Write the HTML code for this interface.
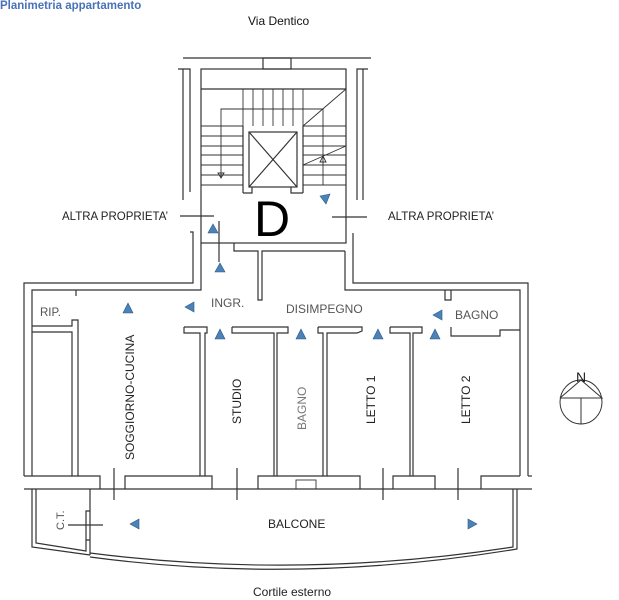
<!DOCTYPE html>
<html><head><meta charset="utf-8"><style>
html,body{margin:0;padding:0;background:#fff;}
svg{display:block;}
text{font-family:"Liberation Sans",sans-serif;}
</style></head><body>
<svg width="619" height="600" viewBox="0 0 619 600" xmlns="http://www.w3.org/2000/svg">
<rect width="619" height="600" fill="#fff"/>
<text x="0" y="9" font-size="11.5" font-weight="bold" fill="#4a72b8">Planimetria appartamento</text>
<text x="248" y="25" font-size="12" fill="#111">Via Dentico</text>
<g stroke="#333" stroke-width="1.2" fill="none">
<!-- top stair block -->
<line x1="183" y1="58" x2="371" y2="58"/>
<rect x="263" y="58" width="28" height="11"/>
<polyline points="178,69 190,69 190,192"/>
<line x1="183" y1="69" x2="183" y2="200"/>
<polyline points="368,69 357,69 357,200"/>
<line x1="363" y1="69" x2="363" y2="200"/>
<rect x="201" y="69" width="145" height="174"/>
<line x1="201" y1="89" x2="346" y2="89"/>
<g stroke-width="0.9">
<line x1="243" y1="89" x2="243" y2="126"/><line x1="253" y1="89" x2="253" y2="126"/>
<line x1="263" y1="89" x2="263" y2="126"/><line x1="273" y1="89" x2="273" y2="126"/>
<line x1="283" y1="89" x2="283" y2="126"/><line x1="293" y1="89" x2="293" y2="126"/>
<line x1="303" y1="89" x2="303" y2="126"/>
<line x1="201" y1="126" x2="243" y2="126"/><line x1="201" y1="136" x2="243" y2="136"/>
<line x1="201" y1="146" x2="243" y2="146"/><line x1="201" y1="155" x2="243" y2="155"/>
<line x1="201" y1="165" x2="243" y2="165"/><line x1="201" y1="175" x2="243" y2="175"/>
<line x1="201" y1="185" x2="243" y2="185"/>
<line x1="303" y1="126" x2="346" y2="126"/><line x1="303" y1="136" x2="346" y2="136"/>
<line x1="303" y1="146" x2="346" y2="146"/><line x1="303" y1="155" x2="346" y2="155"/>
<line x1="303" y1="165" x2="346" y2="165"/><line x1="303" y1="175" x2="346" y2="175"/>
<line x1="303" y1="185" x2="346" y2="185"/>
<line x1="346" y1="89" x2="303" y2="126"/>
<line x1="303" y1="165" x2="346" y2="146"/>
<polyline points="221,177 221,109 323,109 323,185"/>
<polygon points="218,173 224,173 221,178"/>
<polygon points="320,162 326,162 323,156"/>
</g>
<line x1="243" y1="126" x2="243" y2="193"/><line x1="303" y1="126" x2="303" y2="193"/>
<polyline points="243,193 252,193 252,187"/>
<polyline points="303,193 291,193 291,187"/>
<rect x="249" y="132" width="48" height="55"/>
<line x1="249" y1="132" x2="297" y2="187"/><line x1="297" y1="132" x2="249" y2="187"/>
<!-- ALTRA lines -->
<line x1="180" y1="216" x2="214" y2="216"/>
<line x1="332" y1="217" x2="367" y2="217"/>
<line x1="219" y1="221" x2="219" y2="262"/>
<!-- landing connection -->
<polyline points="190,232 193,232 193,283 24,283 24,476"/>
<polyline points="201,243 201,290 32,290 32,476"/>
<polyline points="353,233 353,283 528,283 528,476"/>
<polyline points="345,251 345,290 520,290 520,476"/>
<polyline points="234,243 234,251 258,251 258,300 262,300 262,251 345,251"/>
<!-- RIP -->
<polyline points="76,290 76,296"/>
<polyline points="32,326 72,326 72,320 78,320 78,476 72,476 72,332 32,332"/>
<!-- door walls row -->
<polyline points="184,327 207,327 207,333 205,333 205,476 200,476 200,333 184,333 184,327"/>
<polyline points="232,327 288,327 288,333 277,333 277,476 274,476 274,333 232,333 232,327"/>
<polyline points="318,327 362,327 362,331 357,333 327,333 327,476 323,476 323,333 318,333 318,327"/>
<polyline points="390,327 422,327 422,333 413,333 413,476 410,476 410,333 390,333 390,327"/>
<polyline points="451,327 451,336 500,336 500,330 520,330"/>
<polyline points="445,290 445,300 451,300 451,290"/>
<!-- bottom row -->
<polyline points="24,476 72,476"/>
<polyline points="78,476 100,476 100,489"/>
<polyline points="125,489 125,476 200,476"/>
<polyline points="205,476 212,476 212,489"/>
<polyline points="258,489 258,476 274,476"/>
<polyline points="277,476 323,476"/>
<rect x="296" y="480" width="20" height="9" stroke-width="0.9"/>
<polyline points="327,476 360,476 360,489"/>
<polyline points="393,489 393,476 410,476"/>
<polyline points="413,476 435,476 435,489"/>
<polyline points="481,489 481,476 520,476"/>
<line x1="528" y1="476" x2="532" y2="476"/>
<line x1="24" y1="489" x2="532" y2="489"/>
<line x1="114" y1="468" x2="114" y2="500"/>
<line x1="237" y1="468" x2="237" y2="500"/>
<line x1="383" y1="468" x2="383" y2="500"/>
<line x1="458" y1="468" x2="458" y2="500"/>
<!-- balcony -->
<polyline points="32,489 32,547 90,555"/>
<polyline points="36,489 36,543 86,551 86,540 90,540"/>
<polyline points="90,489 90,511 86,511 86,540"/>
<line x1="90" y1="511" x2="90" y2="555"/>
<line x1="68" y1="525" x2="103" y2="525"/>
<path d="M90,553 Q300,580 513,547 L513,489"/>
<path d="M90,557 Q300,585 517,549 L517,489"/>
<!-- compass -->
<ellipse cx="581" cy="402" rx="21" ry="22" stroke-width="1"/>
<polyline points="560,398 581,380 602,398 560,398" stroke-width="1"/>
<line x1="581" y1="398" x2="581" y2="424" stroke-width="1"/>
</g>
<!-- triangles -->
<g fill="#4b82b8" stroke="#2c5a88" stroke-width="0.6">
<polygon points="320,196 330,194 326,204"/>
<polygon points="208,233 218,233 213,224"/>
<polygon points="215,272 225,272 220,263"/>
<polygon points="123,313 133,313 128,303"/>
<polygon points="185,307 194,302 194,312"/>
<polygon points="433,315 442,310 442,320"/>
<polygon points="215,339 225,339 220,329"/>
<polygon points="296,339 306,339 301,329"/>
<polygon points="373,339 383,339 378,329"/>
<polygon points="430,339 440,339 435,329"/>
<polygon points="130,524 139,519 139,529"/>
<polygon points="468,519 468,529 477,524"/>
</g>
<g fill="#222" font-size="12">
<text x="62" y="220" font-size="11.5">ALTRA PROPRIETA’</text>
<text x="388" y="220" font-size="11.5">ALTRA PROPRIETA’</text>
<text x="272" y="236" font-size="50" text-anchor="middle" fill="#000">D</text>
<text x="40" y="316" fill="#555" font-size="11.5">RIP.</text>
<text x="211" y="307" fill="#555" font-size="12">INGR.</text>
<text x="286" y="313" fill="#555" font-size="12">DISIMPEGNO</text>
<text x="455" y="319" fill="#555" font-size="12">BAGNO</text>
<text transform="translate(134,460) rotate(-90)" font-size="12">SOGGIORNO-CUCINA</text>
<text transform="translate(241,424) rotate(-90)" font-size="12">STUDIO</text>
<text transform="translate(306,430) rotate(-90)" font-size="12" fill="#777">BAGNO</text>
<text transform="translate(375,424) rotate(-90)" font-size="12">LETTO 1</text>
<text transform="translate(470,424) rotate(-90)" font-size="12">LETTO 2</text>
<text transform="translate(64,530) rotate(-90)" font-size="11" fill="#555">C.T.</text>
<text x="268" y="528" font-size="12">BALCONE</text>
<text x="253" y="596" font-size="12">Cortile esterno</text>
<text x="581" y="382" font-size="14" text-anchor="middle">N</text>
</g>
</svg>
</body></html>
